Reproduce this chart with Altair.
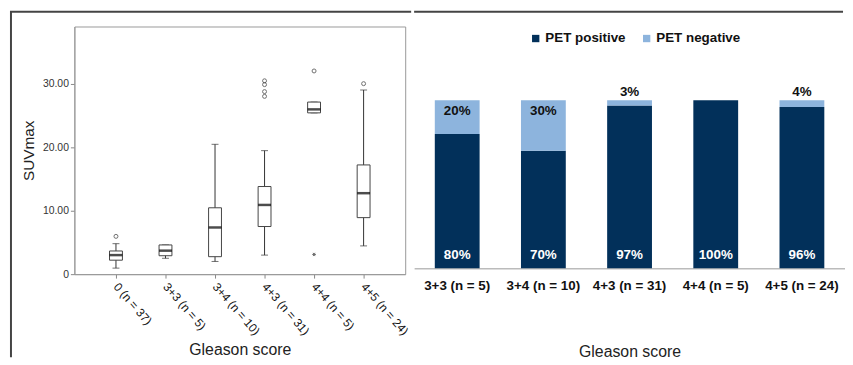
import altair as alt
import pandas as pd

FONT = "Liberation Sans"

# ---------------- data: box plot (left) ----------------
box_cats = ["0 (n = 37)", "3+3 (n = 5)", "3+4 (n = 10)", "4+3 (n = 31)", "4+4 (n = 5)", "4+5 (n = 24)"]
whisk_lo = [0.95, 2.5, 2.0, 3.0, 25.4, 4.45]
q1 = [2.2, 2.9, 2.75, 7.5, 25.4, 8.9]
median = [3.0, 3.7, 7.35, 10.9, 25.95, 12.75]
q3 = [3.65, 4.6, 10.45, 13.8, 27.1, 17.2]
whisk_hi = [4.8, 4.6, 20.45, 19.45, 27.1, 29.0]
outlier_cat = ["0 (n = 37)", "4+3 (n = 31)", "4+3 (n = 31)", "4+3 (n = 31)", "4+3 (n = 31)", "4+4 (n = 5)", "4+5 (n = 24)"]
outlier_val = [5.95, 28.0, 28.75, 29.85, 30.45, 32.0, 30.0]
extreme_cat = ["4+4 (n = 5)"]
extreme_val = [3.1]

# ---------------- data: stacked bars (right) ----------------
bar_cats = ["3+3 (n = 5)", "3+4 (n = 10)", "4+3 (n = 31)", "4+4 (n = 5)", "4+5 (n = 24)"]
pet_pos = [80, 70, 97, 100, 96]
pet_neg = [20, 30, 3, 0, 4]
status_names = ["PET positive", "PET negative"]
status_colors = ["#02305A", "#8DB4DD"]

box_df = pd.DataFrame({"cat": box_cats, "lo": whisk_lo, "q1": q1, "med": median, "q3": q3, "hi": whisk_hi})
out_df = pd.DataFrame({"cat": outlier_cat, "v": outlier_val})
ext_df = pd.DataFrame({"cat": extreme_cat, "v": extreme_val})

xL = alt.X("cat:N", sort=box_cats,
           scale=alt.Scale(paddingInner=0, paddingOuter=0.34),
           axis=alt.Axis(title="Gleason score", labelAngle=49, labelAlign="left", labelBaseline="middle",
                         labelFontSize=12, labelColor="#111", tickColor="#888", tickSize=4,
                         domainColor="#999", labelPadding=6, titleFontSize=16, titleFontWeight="normal",
                         titleColor="#222", titlePadding=5))
yaxisL = alt.Axis(title="SUVmax", values=[0, 10, 20, 30],
                  labelExpr="datum.value == 0 ? '0' : format(datum.value, '.2f')",
                  grid=False, labelFontSize=10.5, labelColor="#333", tickColor="#888", tickSize=4,
                  domainColor="#999", labelPadding=2, titleFontSize=15.5, titleFontWeight="normal",
                  titleColor="#222", titlePadding=6)
yscaleL = alt.Scale(domain=[0, 39], nice=False)


def yL(field):
    return alt.Y(field, scale=yscaleL, axis=yaxisL)


base = alt.Chart(box_df)
whisk = base.mark_rule(color="#333", strokeWidth=1).encode(x=xL, y=yL("lo:Q"), y2="hi:Q")
cap_lo = base.mark_tick(color="#333", size=7, thickness=1).encode(x=xL, y=yL("lo:Q"))
cap_hi = base.mark_tick(color="#333", size=7, thickness=1).encode(x=xL, y=yL("hi:Q"))
box = base.mark_bar(size=13, fill="white", stroke="#444", strokeWidth=1).encode(x=xL, y=yL("q1:Q"), y2="q3:Q")
med = base.mark_tick(color="black", size=13, thickness=2.5).encode(x=xL, y=yL("med:Q"))
outl = alt.Chart(out_df).mark_point(shape="circle", filled=False, size=16, color="#333", strokeWidth=1).encode(
    x=xL, y=yL("v:Q"))
ext = alt.Chart(ext_df).mark_point(
    shape="M-1,0L1,0M-0.5,-0.87L0.5,0.87M-0.5,0.87L0.5,-0.87", filled=False, size=14,
    color="#333", strokeWidth=1).encode(x=xL, y=yL("v:Q"))

frame_data = alt.Data(values=[{"k": 1}])
frame_left = alt.Chart(frame_data).mark_rule(color="#444", strokeWidth=2).encode(
    x=alt.value(-64), y=alt.value(-15), y2=alt.value(334))
frame_topL = alt.Chart(frame_data).mark_rule(color="#444", strokeWidth=2).encode(
    x=alt.value(-65), x2=alt.value(340), y=alt.value(-15))

left = alt.layer(frame_left, frame_topL, whisk, cap_lo, cap_hi, box, med, outl, ext).properties(
    width=334, height=250, view=alt.ViewBackground(stroke="#999", strokeWidth=1))

# ---------------- right panel ----------------
rows = []
for c, p, n in zip(bar_cats, pet_pos, pet_neg):
    rows.append({"cat": c, "status": status_names[0], "pct": p, "ord": 0})
    rows.append({"cat": c, "status": status_names[1], "pct": n, "ord": 1})
stack_df = pd.DataFrame(rows)
lab_df = pd.DataFrame({"cat": bar_cats, "pos": pet_pos, "neg": pet_neg})

xR = alt.X("cat:N", sort=bar_cats, scale=alt.Scale(paddingInner=0.48, paddingOuter=0.24),
           axis=alt.Axis(title="Gleason score", labelAngle=0, labelFontSize=13.5, labelFontWeight="bold",
                         labelColor="#111", ticks=False, domainColor="#bbb", domainWidth=1.5,
                         labelPadding=10, titleFontSize=16, titleFontWeight="normal", titleColor="#222",
                         titlePadding=53))
yscaleR = alt.Scale(domain=[0, 144], nice=False)

bars = alt.Chart(stack_df).mark_bar().encode(
    x=xR,
    y=alt.Y("pct:Q", stack="zero", scale=yscaleR, axis=None),
    color=alt.Color("status:N", scale=alt.Scale(domain=status_names, range=status_colors),
                    legend=alt.Legend(title=None, orient="none", legendX=459, legendY=5,
                                      direction="horizontal", symbolType="square", symbolSize=55,
                                      symbolStrokeWidth=0, labelFontSize=13.5, labelFontWeight="bold",
                                      labelColor="#111", columnPadding=14, labelOffset=3)),
    order=alt.Order("ord:Q"),
)

lab_base = alt.Chart(lab_df).transform_calculate(
    pos_lbl="datum.pos + '%'", neg_lbl="datum.neg + '%'")
pos_txt = lab_base.mark_text(dy=-13, color="white", fontWeight="bold", fontSize=13.5, baseline="middle").encode(
    x=xR, y=alt.datum(0, scale=yscaleR, axis=None), text="pos_lbl:N")
neg_in = lab_base.transform_filter("datum.neg >= 10").mark_text(
    dy=11, color="#111", fontWeight="bold", fontSize=13.5, baseline="middle").encode(
    x=xR, y=alt.datum(100, scale=yscaleR, axis=None), text="neg_lbl:N")
neg_out = lab_base.transform_filter("datum.neg > 0 && datum.neg < 10").mark_text(
    dy=-8, color="#111", fontWeight="bold", fontSize=13.5, baseline="middle").encode(
    x=xR, y=alt.datum(100, scale=yscaleR, axis=None), text="neg_lbl:N")

frame_topR = alt.Chart(frame_data).mark_rule(color="#444", strokeWidth=2).encode(
    x=alt.value(0), x2=alt.value(433), y=alt.value(-15))

right = alt.layer(frame_topR, bars, pos_txt, neg_in, neg_out).properties(width=435, height=244)

chart = alt.hconcat(left, right, spacing=0).properties(
    padding={"left": 0, "top": 0, "right": 0, "bottom": 0}
).configure(font=FONT).configure_view(stroke=None)

chart.save("out.html", embed_options={"renderer": "svg", "actions": False})
